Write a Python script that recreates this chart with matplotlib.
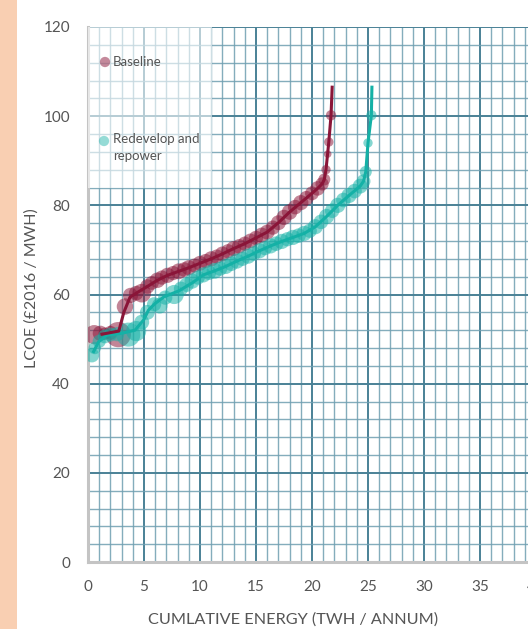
import matplotlib
matplotlib.use("Agg")
import matplotlib.pyplot as plt
from matplotlib.ticker import MultipleLocator
from matplotlib.patches import Rectangle

plt.rcParams['font.family'] = ['Lato', 'DejaVu Sans']

# ---- data -------------------------------------------------------------
series_names = ["Baseline", "Redevelop and\nrepower"]

# Baseline: cumulative energy (TWh/annum), LCOE (GBP2016/MWh), bubble size
base_x = [0.55, 1.1, 1.5, 2.0, 2.7, 3.3, 3.8, 4.3, 4.8, 5.3, 5.7, 6.2, 6.6, 7.1,
          7.6, 8.1, 8.6, 9.0, 9.5, 10.0, 10.5, 11.0, 11.5, 12.0, 12.5, 13.0,
          13.5, 14.0, 14.5, 15.0, 15.5, 16.0, 16.5, 17.0, 17.5, 18.0, 18.5,
          19.0, 19.5, 20.0, 20.5, 20.9, 21.1, 21.25, 21.4, 21.5, 21.7]
base_y = [51.0, 51.3, 51.2, 51.4, 51.0, 57.3, 59.8, 60.3, 60.3, 61.8, 62.6, 63.2,
          63.8, 64.3, 64.8, 65.2, 65.6, 66.0, 66.5, 67.0, 67.5, 68.0, 68.5, 69.1,
          69.7, 70.3, 70.8, 71.4, 72.0, 72.7, 73.3, 74.0, 75.0, 76.1, 77.3, 78.5,
          79.6, 80.6, 81.6, 82.7, 83.8, 84.8, 85.8, 88.0, 91.5, 94.2, 100.2]
base_s = [190, 120, 80, 100, 330, 140, 120, 110, 180, 110, 100, 125, 105, 120,
          105, 130, 110, 120, 100, 115, 105, 120, 105, 115, 105, 120, 110, 105,
          115, 105, 120, 115, 105, 115, 120, 125, 110, 120, 110, 100, 110, 90,
          75, 45, 30, 45, 55]

# Baseline supply curve
base_line_x = [1.25, 2.75, 3.2, 3.75, 4.5, 5.3, 6.2, 7.1, 8.1, 9.0, 10.0, 11.0,
               12.0, 13.0, 14.0, 15.0, 16.0, 17.0, 18.0, 19.0, 20.0, 20.5, 20.9,
               21.1, 21.25, 21.5, 21.7, 21.8]
base_line_y = [51.1, 51.8, 56.0, 59.4, 60.6, 61.8, 63.2, 64.3, 65.2, 66.0, 67.0,
               68.0, 69.1, 70.3, 71.4, 72.7, 74.0, 76.1, 78.5, 80.6, 82.7, 83.8,
               84.8, 85.8, 88.0, 94.2, 100.2, 106.5]

# Redevelop and repower
rep_x = [0.35, 0.6, 1.0, 1.5, 2.0, 2.6, 3.6, 4.3, 4.8, 5.3, 5.9, 6.4, 6.9, 7.7,
         8.3, 8.8, 9.3, 9.8, 10.3, 10.8, 11.3, 11.8, 12.3, 12.8, 13.3, 13.8,
         14.3, 14.8, 15.3, 15.8, 16.3, 16.8, 17.3, 17.8, 18.3, 18.8, 19.3, 19.8,
         20.3, 20.8, 21.3, 21.8, 22.3, 22.8, 23.3, 23.8, 24.3, 24.6, 24.8, 25.0,
         25.3]
rep_y = [46.4, 48.0, 49.5, 50.6, 51.0, 51.1, 51.0, 51.8, 53.8, 56.0, 57.8, 57.5,
         59.3, 60.0, 61.3, 62.2, 63.0, 63.8, 64.4, 64.9, 65.3, 65.8, 66.3, 66.9,
         67.5, 68.0, 68.6, 69.2, 69.8, 70.4, 70.9, 71.4, 71.9, 72.4, 72.8, 73.2,
         73.7, 74.3, 75.2, 76.3, 77.5, 78.8, 80.0, 81.2, 82.2, 83.2, 84.3, 85.4,
         87.5, 94.0, 100.2]
rep_s = [110, 80, 90, 100, 100, 105, 300, 210, 115, 115, 105, 130, 105, 190,
         105, 110, 120, 105, 120, 110, 130, 105, 120, 110, 120, 105, 120, 110,
         120, 105, 120, 110, 120, 105, 120, 110, 120, 105, 120, 110, 120, 110,
         120, 110, 120, 110, 115, 100, 75, 45, 55]

rep_line_x = [0.5, 0.95, 1.7, 3.0, 4.2, 4.97, 5.4, 6.0, 6.8, 8.1, 9.3, 10.3,
              11.3, 12.3, 13.3, 14.3, 15.3, 16.3, 17.3, 18.3, 19.3, 20.3, 21.3,
              22.3, 23.3, 24.3, 24.6, 24.8, 25.0, 25.3, 25.35]
rep_line_y = [47.2, 49.4, 50.9, 51.3, 52.0, 54.3, 56.5, 58.0, 59.5, 60.8, 62.6,
              64.4, 65.3, 66.3, 67.5, 68.6, 69.8, 70.9, 71.9, 72.8, 73.7, 75.2,
              77.5, 80.0, 82.2, 84.3, 85.4, 87.5, 94.0, 100.2, 106.5]

x_ticks = [0, 5, 10, 15, 20, 25, 30, 35, 40]
y_ticks = [0, 20, 40, 60, 80, 100, 120]

# ---- styling ------------------------------------------------------------
base_color = "#8a1538"
rep_color = "#14b1a6"
text_color = "#555555"
grid_minor = "#6f9fb1"
grid_major = "#4a8196"

fig = plt.figure(figsize=(5.28, 6.29), dpi=100)
fig.patch.set_facecolor("white")

# peach side band
fig.patches.append(Rectangle((0, 0), 17 / 528, 1, transform=fig.transFigure,
                             facecolor="#f9cfb2", edgecolor="none", zorder=0))

ax = fig.add_axes([88 / 528, 67 / 629, 448 / 528, 535 / 629])
ax.set_xlim(0, 40)
ax.set_ylim(0, 120)

ax.xaxis.set_minor_locator(MultipleLocator(1))
ax.yaxis.set_minor_locator(MultipleLocator(4))
ax.set_xticks(x_ticks)
ax.set_yticks(y_ticks)

ax.grid(which="minor", color=grid_minor, linewidth=1.0, alpha=0.85)
ax.grid(which="major", color=grid_major, linewidth=1.4)
ax.set_axisbelow(True)

for side in ("top", "right"):
    ax.spines[side].set_visible(False)
for side in ("left", "bottom"):
    ax.spines[side].set_color("#c4c4c4")
    ax.spines[side].set_linewidth(2.2)

ax.tick_params(which="both", length=0)
ax.tick_params(axis="x", pad=13, labelsize=11, labelcolor=text_color)
ax.tick_params(axis="y", pad=13, labelsize=11, labelcolor=text_color)

# bubbles and curves
ax.scatter(base_x, base_y, s=base_s, color=base_color, alpha=0.52,
           edgecolors="none", zorder=3)
ax.scatter(rep_x, rep_y, s=rep_s, color=rep_color, alpha=0.52,
           edgecolors="none", zorder=3)
ax.plot(rep_line_x, rep_line_y, color=rep_color, linewidth=2.2, zorder=4,
        solid_joinstyle="round")
ax.plot(base_line_x, base_line_y, color=base_color, linewidth=2.2, zorder=5,
        solid_joinstyle="round")

# legend panel
ax.add_patch(Rectangle((0, 0.7), 124 / 448, 0.3, transform=ax.transAxes,
                       facecolor="white", alpha=0.6, edgecolor="none", zorder=6))
ax.scatter([105 / 528], [1 - 62 / 629], s=55, color=base_color, alpha=0.5,
           edgecolors="none", transform=fig.transFigure, zorder=7, clip_on=False)
ax.scatter([104 / 528], [1 - 141 / 629], s=55, color=rep_color, alpha=0.45,
           edgecolors="none", transform=fig.transFigure, zorder=7, clip_on=False)
fig.text(113 / 528, 1 - 62 / 629, series_names[0], fontsize=9.5,
         color=text_color, va="center", ha="left", zorder=8)
fig.text(113 / 528, 1 - 133 / 629, series_names[1], fontsize=9.5,
         color=text_color, va="top", ha="left", linespacing=1.45, zorder=8)

# axis titles
fig.text(293 / 528, 1 - 620 / 629, "CUMLATIVE ENERGY (TWH / ANNUM)",
         fontsize=11.7, color=text_color, ha="center", va="center")
fig.text(32 / 528, 1 - 288 / 629, "LCOE (£2016 / MWH)", fontsize=11.5,
         color=text_color, ha="center", va="center", rotation=90)

fig.savefig("out.png", dpi=100)
